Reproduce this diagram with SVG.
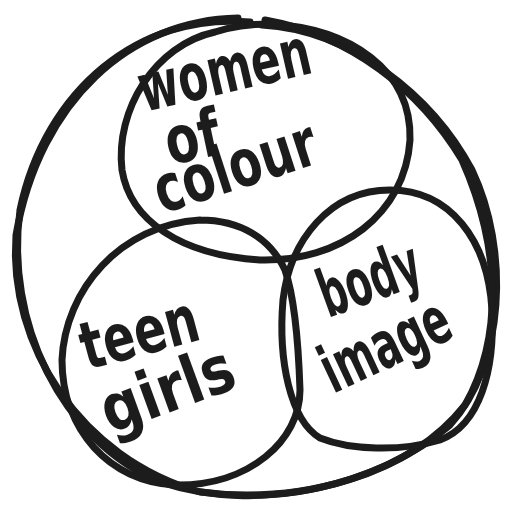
<svg xmlns="http://www.w3.org/2000/svg" width="507" height="506" viewBox="0 0 507 506">
<style>
.c{fill:none;stroke:#1c1c1c;stroke-width:7;stroke-linecap:round;stroke-linejoin:round}
.t{font-family:"DejaVu Sans Condensed","DejaVu Sans",sans-serif;font-weight:bold;fill:#1c1c1c;font-size:66px}
</style>
<rect width="507" height="506" fill="#fff"/>
<g id="outer">
<path class="c" d="M250,22 C140,12 45,90 20,210 C5,320 60,440 160,482 C260,515 380,485 450,425 C505,365 510,250 472,170 C432,95 350,30 262,25"/>
<path class="c" d="M238,18 C130,20 40,100 16,235 C8,345 80,458 200,492 C300,505 410,475 465,405 C502,340 502,250 462,160 C420,90 350,35 265,20"/>
</g>
<g id="women-of-colour">
<path class="c" d="M215,32 C155,45 115,110 122,170 C130,220 180,255 260,260 C340,262 405,215 410,140 C412,70 350,28 270,24 C250,24 230,27 215,32"/>
<text class="t" transform="translate(144,112) rotate(-13)" textLength="175" lengthAdjust="spacingAndGlyphs">women</text>
<text class="t" transform="translate(170,165) rotate(-12)" textLength="55" lengthAdjust="spacingAndGlyphs">of</text>
<text class="t" transform="translate(162,214) rotate(-18)" textLength="168" lengthAdjust="spacingAndGlyphs">colour</text>
</g>
<g id="teen-girls">
<path class="c" d="M200,220 C120,225 65,290 62,360 C62,430 110,482 175,485 C250,486 300,440 300,390 C298,330 292,290 285,270 C270,238 240,220 200,220"/>
<text class="t" transform="translate(87,370) rotate(-15)" textLength="120" lengthAdjust="spacingAndGlyphs">teen</text>
<text class="t" transform="translate(110,434) rotate(-20)" textLength="138" lengthAdjust="spacingAndGlyphs">girls</text>
</g>
<g id="body-image">
<path class="c" d="M390,190 C330,190 290,240 283,300 C278,360 290,420 320,438 C350,450 400,452 440,440 C480,425 495,370 492,310 C488,240 450,190 390,190"/>
<text class="t" transform="translate(328,318) rotate(-20)" textLength="104" lengthAdjust="spacingAndGlyphs">body</text>
<text class="t" transform="translate(333,394) rotate(-25)" textLength="136" lengthAdjust="spacingAndGlyphs">image</text>
</g>
</svg>
